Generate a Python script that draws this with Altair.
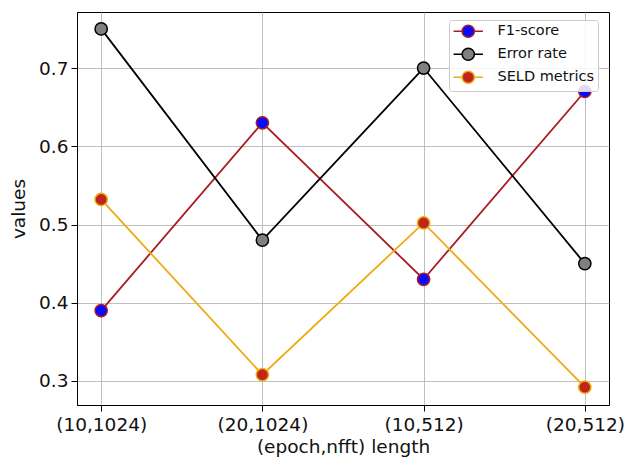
import altair as alt
import pandas as pd

categories = ["(10,1024)", "(20,1024)", "(10,512)", "(20,512)"]
series_names = ["F1-score", "Error rate", "SELD metrics"]
f1_score = [0.39, 0.63, 0.43, 0.67]
error_rate = [0.75, 0.48, 0.70, 0.45]
seld_metrics = [0.532, 0.308, 0.502, 0.292]

line_colors = ["#a81c22", "#000000", "#eeaa11"]
face_colors = ["#0a0aff", "#808080", "#c0251a"]

rows = []
for name, vals in zip(series_names, [f1_score, error_rate, seld_metrics]):
    for i, v in enumerate(vals):
        rows.append({"series": name, "idx": i, "cat": categories[i], "value": v})
df = pd.DataFrame(rows)

label_expr = "[" + ",".join("'%s'" % c for c in categories) + "][round(datum.value)]"

x = alt.X("idx:Q",
          scale=alt.Scale(domain=[-0.15, 3.15], nice=False, zero=False),
          axis=alt.Axis(values=[0, 1, 2, 3], labelExpr=label_expr,
                        title="(epoch,nfft) length"))
y = alt.Y("value:Q",
          scale=alt.Scale(domain=[0.2693, 0.7716], nice=False, zero=False),
          axis=alt.Axis(values=[0.3, 0.4, 0.5, 0.6, 0.7], format=".1f",
                        title="values"))

legend_path = "M-2.4,0L-1,0M1,0L2.4,0M-1,0A1,1,0,1,1,1,0A1,1,0,1,1,-1,0Z"

leg = alt.Legend(title=None, orient="none",
                 legendX=372, legendY=8,
                 symbolType=legend_path, symbolSize=150,
                 symbolStrokeWidth=1.5,
                 labelFontSize=14.5, labelFont="DejaVu Sans",
                 labelColor="#111111",
                 labelOffset=22, symbolOffset=8,
                 rowPadding=4, padding=4,
                 strokeColor="#cccccc", cornerRadius=3,
                 fillColor="rgba(255,255,255,0.85)")

line_layers = []
for name, col in zip(series_names, line_colors):
    line_layers.append(
        alt.Chart(df).transform_filter(alt.datum.series == name)
        .mark_line(strokeWidth=1.8, color=col)
        .encode(x=x, y=y, order="idx:Q")
    )

points = alt.Chart(df).mark_point(filled=True, size=150, strokeWidth=1.5,
                                  opacity=1).encode(
    x=x, y=y,
    fill=alt.Fill("series:N",
                  scale=alt.Scale(domain=series_names, range=face_colors),
                  legend=leg),
    stroke=alt.Stroke("series:N",
                      scale=alt.Scale(domain=series_names, range=line_colors),
                      legend=leg),
    shape=alt.value("circle"),
)

chart = alt.layer(*line_layers, points).properties(
    width=532, height=393,
    autosize=alt.AutoSizeParams(type="none"),
    padding={"left": 77, "top": 12, "right": 19, "bottom": 57},
).configure_view(
    stroke="#000000", strokeWidth=1
).configure_axis(
    labelFont="DejaVu Sans", titleFont="DejaVu Sans",
    labelFontSize=18.5, titleFontSize=18.5,
    labelColor="#111111", titleColor="#111111",
    titleFontWeight="normal",
    grid=True, gridColor="#b0b0b0", gridWidth=0.8,
    domainColor="#000000", tickColor="#000000", tickSize=6,
    labelPadding=3,
).configure_axisY(
    titlePadding=10,
).configure_axisX(
    titlePadding=4, labelPadding=4,
)

chart.save("out.html", embed_options={"renderer": "svg", "actions": False})
